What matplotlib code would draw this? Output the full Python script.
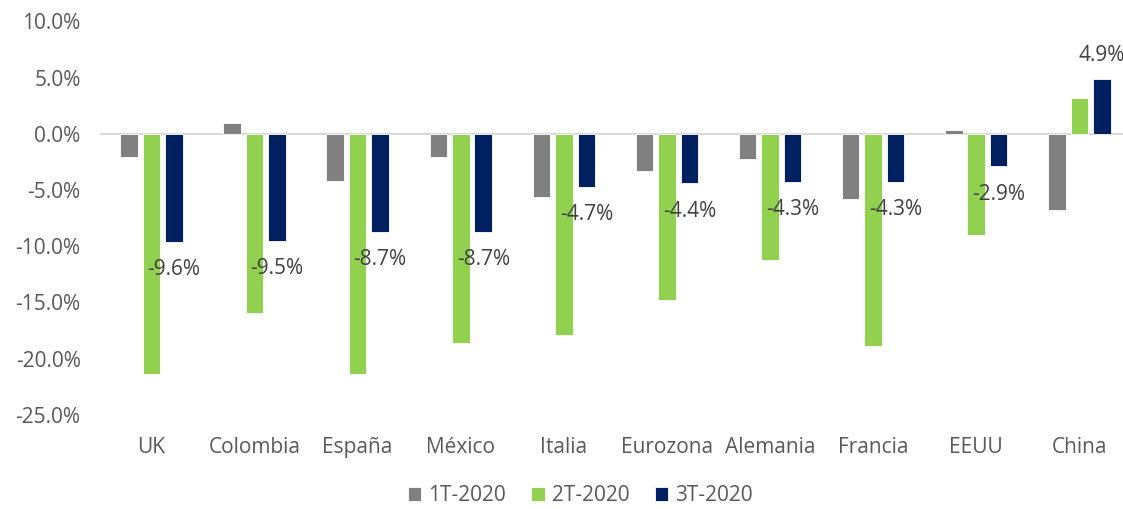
import numpy as np
import matplotlib.pyplot as plt
from matplotlib.ticker import FuncFormatter

# Datos del gráfico (variación % PIB trimestral)
paises = ["UK", "Colombia", "España", "México", "Italia", "Eurozona",
          "Alemania", "Francia", "EEUU", "China"]
t1_2020 = [-2.1, 1.0, -4.2, -2.1, -5.6, -3.3, -2.2, -5.8, 0.3, -6.8]
t2_2020 = [-21.4, -15.9, -21.4, -18.6, -17.9, -14.8, -11.2, -18.9, -9.0, 3.2]
t3_2020 = [-9.6, -9.5, -8.7, -8.7, -4.7, -4.4, -4.3, -4.3, -2.9, 4.9]

plt.rcParams['font.family'] = ['Open Sans', 'DejaVu Sans']

fig = plt.figure(figsize=(11.23, 5.09), dpi=100)
ax = fig.add_axes([0.089, 0.185, 0.918, 0.773])

x = np.arange(len(paises))
ancho = 0.17
paso = 0.218

ax.bar(x - paso, t1_2020, ancho, color="#808080", edgecolor="white", linewidth=0.6, label="1T-2020", zorder=2)
ax.bar(x, t2_2020, ancho, color="#92D050", edgecolor="white", linewidth=0.6, label="2T-2020", zorder=2)
ax.bar(x + paso, t3_2020, ancho, color="#002060", edgecolor="white", linewidth=0.6, label="3T-2020", zorder=2)

# Etiquetas de datos solo para 3T-2020
for xi, v in zip(x + paso, t3_2020):
    off = 17 if v > 0 else -20
    ax.annotate(f"{v:.1f}%", (xi, v), xytext=(0, off), textcoords="offset points",
                ha="center", va="center", fontsize=15, color="#404040",
                zorder=3, annotation_clip=False)

ax.axhline(0, color="#D9D9D9", linewidth=1.5, zorder=1)

ax.set_ylim(-25, 10)
ax.set_yticks(np.arange(-25, 10.1, 5))
ax.yaxis.set_major_formatter(FuncFormatter(lambda v, p: f"{v:.1f}%"))
ax.set_xlim(-0.5, len(paises) - 0.5)
ax.set_xticks(x)
ax.set_xticklabels(paises)

for s in ax.spines.values():
    s.set_visible(False)
ax.tick_params(axis="both", length=0, labelsize=15, colors="#595959")
ax.tick_params(axis="y", pad=14)
ax.tick_params(axis="x", pad=16)

ax.legend(loc="center", bbox_to_anchor=(0.466, -0.205), ncol=3, frameon=False,
          fontsize=15, handlelength=0.65, handleheight=0.65, handletextpad=0.35,
          columnspacing=1.2, labelcolor="#595959", borderpad=0.1)

fig.savefig("out.png", dpi=100)
